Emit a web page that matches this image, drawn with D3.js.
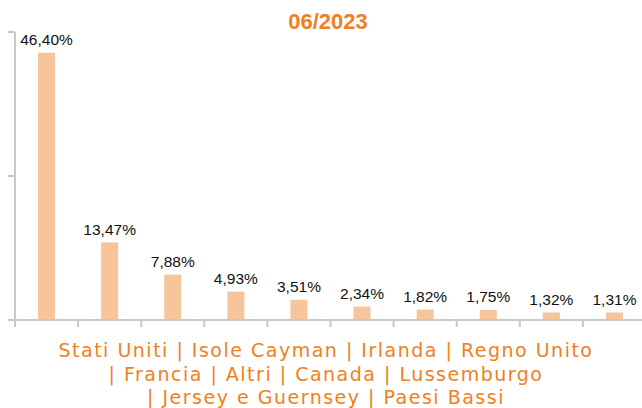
<!DOCTYPE html>
<html>
<head>
<meta charset="utf-8">
<script src="https://cdn.jsdelivr.net/npm/d3@7"></script>
<style>
  html, body { margin: 0; padding: 0; background: #fff; }
  svg { display: block; }
</style>
</head>
<body>
<div id="chart"></div>
<script>
// data
const title = '06/2023';
const countries = ['Stati Uniti', 'Isole Cayman', 'Irlanda', 'Regno Unito', 'Francia', 'Altri', 'Canada', 'Lussemburgo', 'Jersey e Guernsey', 'Paesi Bassi'];
const shares = [46.40, 13.47, 7.88, 4.93, 3.51, 2.34, 1.82, 1.75, 1.32, 1.31];
const yTicks = [0, 25, 50];
const legendLines = [
  'Stati Uniti | Isole Cayman | Irlanda | Regno Unito',
  '| Francia | Altri | Canada | Lussemburgo',
  '| Jersey e Guernsey | Paesi Bassi'
];

const width = 642, height = 408;
const orange = '#f07f1e';
const barColor = '#f6c59b';
const axisColor = '#c8c8c8';

const svg = d3.select('#chart').append('svg')
  .attr('width', width)
  .attr('height', height);

const x = d3.scaleBand()
  .domain(countries)
  .range([15, 646])
  .paddingInner(0.73)
  .paddingOuter(0.365);

const y = d3.scaleLinear()
  .domain([0, 50])
  .range([320, 32]);

const it = d3.formatLocale({ decimal: ',', thousands: '.', grouping: [3], currency: ['', '€'] });
const fmt = it.format('.2f');

// title
svg.append('text')
  .attr('x', 328)
  .attr('y', 29)
  .attr('text-anchor', 'middle')
  .style('font-family', 'Liberation Sans, Arial, sans-serif')
  .style('font-weight', 'bold')
  .style('font-size', '22px')
  .style('fill', orange)
  .text(title);

// bars
svg.selectAll('.bar')
  .data(shares)
  .enter().append('rect')
  .attr('x', (d, i) => x(countries[i]))
  .attr('y', d => y(d))
  .attr('width', x.bandwidth())
  .attr('height', d => y(0) - y(d))
  .attr('fill', barColor);

// value labels
svg.selectAll('.val')
  .data(shares)
  .enter().append('text')
  .attr('x', (d, i) => x(countries[i]) + x.bandwidth() / 2)
  .attr('y', d => y(d) - 7.5)
  .attr('text-anchor', 'middle')
  .style('font-family', 'Liberation Sans, Arial, sans-serif')
  .style('font-size', '15.5px')
  .style('fill', '#111')
  .text(d => fmt(d) + '%');

// y axis
svg.append('line')
  .attr('x1', 15).attr('x2', 15)
  .attr('y1', y(50)).attr('y2', y(0))
  .attr('stroke', axisColor).attr('stroke-width', 2);

svg.selectAll('.ytick')
  .data(yTicks)
  .enter().append('line')
  .attr('x1', 8).attr('x2', 15)
  .attr('y1', d => y(d)).attr('y2', d => y(d))
  .attr('stroke', axisColor).attr('stroke-width', 2);

// x axis
svg.append('line')
  .attr('x1', 8).attr('x2', width)
  .attr('y1', y(0)).attr('y2', y(0))
  .attr('stroke', axisColor).attr('stroke-width', 2);

const step = x.step();
svg.selectAll('.xtick')
  .data(d3.range(countries.length + 1))
  .enter().append('line')
  .attr('x1', i => 15 + i * step).attr('x2', i => 15 + i * step)
  .attr('y1', y(0)).attr('y2', y(0) + 7)
  .attr('stroke', axisColor).attr('stroke-width', 2);

// category legend under the axis
svg.selectAll('.cat')
  .data(legendLines)
  .enter().append('text')
  .attr('x', 326)
  .attr('y', (d, i) => 357 + i * 23.5)
  .attr('text-anchor', 'middle')
  .style('font-family', 'DejaVu Sans, Verdana, sans-serif')
  .style('font-size', '19px')
  .style('letter-spacing', '1.5px')
  .style('fill', orange)
  .text(d => d);
</script>
</body>
</html>
